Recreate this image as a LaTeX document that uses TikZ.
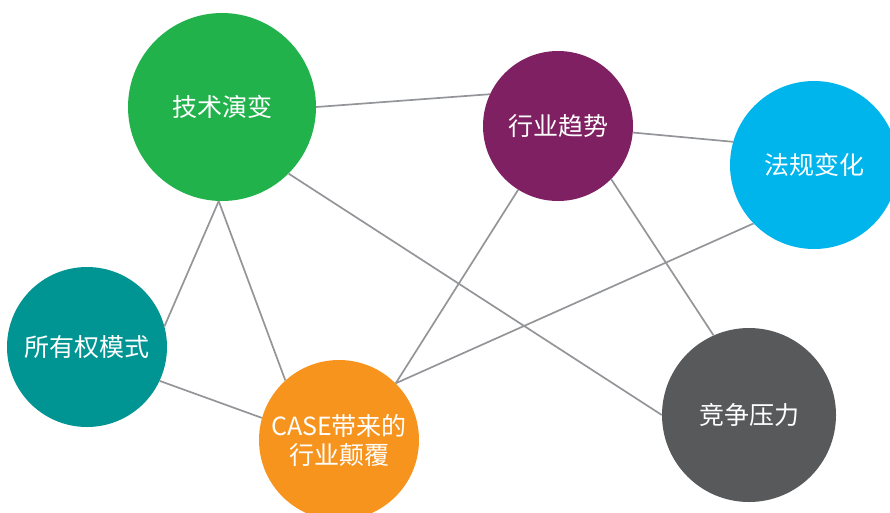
\documentclass[tikz,border=0pt]{standalone}
\usepackage{fontspec}
\setmainfont{Noto Sans CJK SC}
\definecolor{techgreen}{HTML}{22B24C}
\definecolor{trendpurple}{HTML}{7F2062}
\definecolor{lawblue}{HTML}{00B4EC}
\definecolor{ownteal}{HTML}{009593}
\definecolor{caseorange}{HTML}{F7941E}
\definecolor{compgray}{HTML}{58595B}
\definecolor{linegray}{HTML}{939598}

\begin{document}
\begin{tikzpicture}[x=1pt, y=-1pt,
		topic/.style={circle, inner sep=0pt, text=white, align=center, font=\fontsize{25}{29}\selectfont},
		link/.style={draw=linegray, line width=1.7pt}]
		\useasboundingbox (0,0) rectangle (890,512);
		
		\node[topic, fill=techgreen, minimum size=188pt] (T) at (222,107) {技术演变};
		\node[topic, fill=trendpurple, minimum size=150pt] (H) at (558,126) {行业趋势};
		\node[topic, fill=lawblue, minimum size=168pt] (F) at (814,165) {法规变化};
		\node[topic, fill=ownteal, minimum size=160pt] (S) at (87,347) {所有权模式};
		\node[topic, fill=caseorange, minimum size=160pt] (C) at (339,440) {CASE带来的\\行业颠覆};
		\node[topic, fill=compgray, minimum size=174pt] (J) at (749,415) {竞争压力};
		
		\draw[link] (T.east) -- (H.155);
		\draw[link] (H.-5) -- (F.164);
		\draw[link] (T.268) -- (S.15);
		\draw[link] (T.268) -- (C.132);
		\draw[link] (T.-45) -- (J.west);
		\draw[link] (H.238) -- (C.45);
		\draw[link] (F.224) -- (C.45);
		\draw[link] (H.-45) -- (J.114);
		\draw[link] (S.-25) -- (C.164);
	\end{tikzpicture}
\end{document}
